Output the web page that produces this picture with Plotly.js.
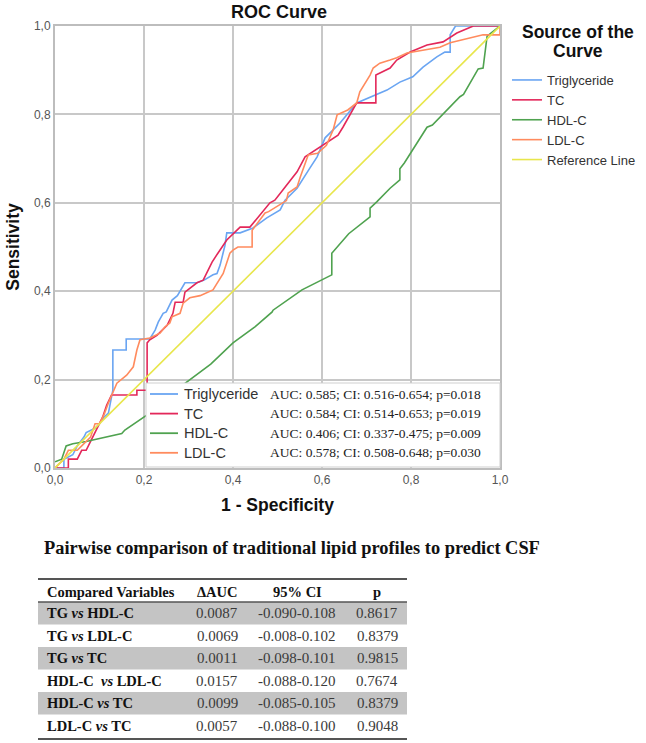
<!DOCTYPE html>
<html>
<head>
<meta charset="utf-8">
<script src="https://cdn.plot.ly/plotly-3.0.1.min.js"></script>
<style>html,body{margin:0;padding:0;background:#fff;}#chart{width:646px;height:743px;}</style>
</head>
<body>
<div id="chart"></div>
<script>
// ---- ROC curve data (1 - specificity, sensitivity) ----
const seriesNames = ['Triglyceride', 'TC', 'HDL-C', 'LDL-C'];

const tgX = [0, 0.02, 0.02, 0.04, 0.05, 0.065, 0.07, 0.09, 0.1, 0.11, 0.12, 0.125, 0.13, 0.13, 0.16, 0.16, 0.213, 0.225, 0.232, 0.243, 0.25, 0.263, 0.275, 0.292, 0.319, 0.335, 0.355, 0.364, 0.371, 0.382, 0.386, 0.416, 0.445, 0.476, 0.506, 0.517, 0.544, 0.573, 0.589, 0.607, 0.618, 0.64, 0.678, 0.723, 0.746, 0.775, 0.804, 0.827, 0.858, 0.876, 0.888, 0.888, 0.9, 1];
const tgY = [0, 0, 0.02, 0.03, 0.05, 0.07, 0.08, 0.09, 0.1, 0.115, 0.124, 0.15, 0.176, 0.267, 0.267, 0.292, 0.292, 0.312, 0.33, 0.35, 0.353, 0.38, 0.39, 0.419, 0.419, 0.425, 0.437, 0.44, 0.459, 0.504, 0.532, 0.532, 0.543, 0.566, 0.584, 0.606, 0.633, 0.679, 0.704, 0.747, 0.758, 0.78, 0.826, 0.844, 0.855, 0.873, 0.885, 0.907, 0.93, 0.941, 0.941, 0.98, 1, 1];

const tcX = [0, 0.03, 0.03, 0.05, 0.06, 0.07, 0.08, 0.09, 0.1, 0.107, 0.116, 0.124, 0.127, 0.184, 0.184, 0.207, 0.207, 0.213, 0.229, 0.252, 0.265, 0.27, 0.288, 0.292, 0.319, 0.333, 0.353, 0.366, 0.386, 0.416, 0.438, 0.483, 0.494, 0.512, 0.544, 0.562, 0.602, 0.636, 0.647, 0.678, 0.721, 0.721, 0.753, 0.768, 0.798, 0.836, 0.872, 0.903, 0.94, 1];
const tcY = [0, 0, 0.02, 0.02, 0.04, 0.04, 0.06, 0.08, 0.1, 0.115, 0.142, 0.161, 0.165, 0.165, 0.176, 0.176, 0.283, 0.29, 0.3, 0.323, 0.35, 0.375, 0.375, 0.398, 0.419, 0.425, 0.466, 0.486, 0.516, 0.545, 0.545, 0.6, 0.606, 0.629, 0.67, 0.704, 0.731, 0.753, 0.771, 0.826, 0.826, 0.889, 0.905, 0.923, 0.941, 0.957, 0.964, 0.984, 1, 1];

const hdlX = [0, 0.015, 0.025, 0.04, 0.07, 0.15, 0.157, 0.207, 0.25, 0.303, 0.326, 0.35, 0.4, 0.45, 0.488, 0.49, 0.555, 0.622, 0.622, 0.66, 0.708, 0.708, 0.723, 0.753, 0.775, 0.775, 0.785, 0.836, 0.848, 0.91, 0.918, 0.951, 0.962, 0.971, 1];
const hdlY = [0.014, 0.02, 0.05, 0.055, 0.06, 0.078, 0.086, 0.12, 0.16, 0.2, 0.217, 0.235, 0.283, 0.32, 0.353, 0.357, 0.403, 0.437, 0.486, 0.53, 0.568, 0.588, 0.602, 0.633, 0.652, 0.677, 0.69, 0.771, 0.776, 0.84, 0.845, 0.903, 0.905, 0.977, 1];

const ldlX = [0, 0.01, 0.02, 0.03, 0.05, 0.06, 0.07, 0.08, 0.09, 0.1, 0.11, 0.12, 0.139, 0.15, 0.161, 0.176, 0.184, 0.191, 0.213, 0.236, 0.247, 0.258, 0.263, 0.281, 0.288, 0.303, 0.326, 0.355, 0.378, 0.393, 0.4, 0.411, 0.443, 0.443, 0.472, 0.48, 0.51, 0.52, 0.524, 0.544, 0.551, 0.562, 0.569, 0.59, 0.61, 0.625, 0.634, 0.658, 0.678, 0.685, 0.708, 0.715, 0.73, 0.753, 0.768, 0.791, 0.827, 0.865, 0.888, 0.933, 0.962, 1, 1];
const ldlY = [0, 0.01, 0.02, 0.04, 0.04, 0.05, 0.06, 0.07, 0.1, 0.1, 0.12, 0.147, 0.192, 0.2, 0.21, 0.229, 0.267, 0.29, 0.294, 0.305, 0.319, 0.328, 0.342, 0.35, 0.373, 0.385, 0.39, 0.403, 0.44, 0.486, 0.493, 0.5, 0.5, 0.538, 0.577, 0.58, 0.6, 0.605, 0.622, 0.636, 0.658, 0.69, 0.708, 0.712, 0.73, 0.765, 0.799, 0.81, 0.826, 0.851, 0.889, 0.905, 0.916, 0.923, 0.928, 0.939, 0.946, 0.952, 0.962, 0.973, 0.98, 0.98, 1];

const refX = [0, 1];
const refY = [0, 1];

const aucLabels = [
  'AUC: 0.585; CI: 0.516-0.654; p=0.018',
  'AUC: 0.584; CI: 0.514-0.653; p=0.019',
  'AUC: 0.406; CI: 0.337-0.475; p=0.009',
  'AUC: 0.578; CI: 0.508-0.648; p=0.030'
];

// ---- pairwise comparison table ----
const tableTitle = 'Pairwise comparison of traditional lipid profiles to predict CSF';
const tableHeaders = ['Compared Variables', 'ΔAUC', '95% CI', 'p'];
const comparedVars = ['TG <i>vs</i> HDL-C', 'TG <i>vs</i> LDL-C', 'TG <i>vs</i> TC', 'HDL-C  <i>vs</i> LDL-C', 'HDL-C <i>vs</i> TC', 'LDL-C <i>vs</i> TC'];
const deltaAUC = ['0.0087', '0.0069', '0.0011', '0.0157', '0.0099', '0.0057'];
const ci95 = ['-0.090-0.108', '-0.008-0.102', '-0.098-0.101', '-0.088-0.120', '-0.085-0.105', '-0.088-0.100'];
const pVals = ['0.8617', '0.8379', '0.9815', '0.7674', '0.8379', '0.9048'];

// ---- styling ----
const colors = ['#6aa5f2', '#e3285a', '#4fa24f', '#ff8b5e'];
const refColor = '#e8e64c';
const W = 646, H = 743;
const px = v => v / W;
const py = v => (H - v) / H;
const SANS = 'Liberation Sans, Arial, sans-serif';
const SERIF = 'Liberation Serif, Times New Roman, serif';

const xs = [tgX, tcX, hdlX, ldlX];
const ys = [tgY, tcY, hdlY, ldlY];

const traces = [];
seriesNames.forEach((n, i) => {
  traces.push({
    type: 'scatter', mode: 'lines', x: xs[i], y: ys[i], name: n,
    line: {color: colors[i], width: 1.6}
  });
});
traces.push({
  type: 'scatter', mode: 'lines', x: refX, y: refY, name: 'Reference Line',
  line: {color: refColor, width: 1.6}
});

const annotations = [];
const shapes = [];

// in-plot AUC legend box
shapes.push({type: 'rect', xref: 'paper', yref: 'paper', x0: px(146), x1: px(500), y0: py(467), y1: py(383),
  fillcolor: '#ffffff', line: {color: '#cfcfcf', width: 1}, layer: 'above'});
seriesNames.forEach((n, i) => {
  const yc = 394 + i * 19.6;
  shapes.push({type: 'line', xref: 'paper', yref: 'paper', x0: px(150), x1: px(178), y0: py(yc), y1: py(yc),
    line: {color: colors[i], width: 1.8}, layer: 'above'});
  annotations.push({text: n, xref: 'paper', yref: 'paper', x: px(182), y: py(yc),
    xanchor: 'left', yanchor: 'middle', showarrow: false,
    font: {family: SANS, size: 14.5, color: '#333'}});
  annotations.push({text: aucLabels[i], xref: 'paper', yref: 'paper', x: px(268), y: py(yc),
    xanchor: 'left', yanchor: 'middle', showarrow: false,
    font: {family: SERIF, size: 13.5, color: '#222'}});
});

// right legend title
annotations.push({text: '<b>Source of the</b>', xref: 'paper', yref: 'paper', x: px(578), y: py(32),
  xanchor: 'center', yanchor: 'middle', showarrow: false, font: {family: SANS, size: 17.5, color: '#111'}});
annotations.push({text: '<b>Curve</b>', xref: 'paper', yref: 'paper', x: px(578), y: py(51),
  xanchor: 'center', yanchor: 'middle', showarrow: false, font: {family: SANS, size: 17.5, color: '#111'}});

// table title
annotations.push({text: '<b>' + tableTitle + '</b>', xref: 'paper', yref: 'paper',
  x: px(292), y: py(548), xanchor: 'center', yanchor: 'middle', showarrow: false,
  font: {family: SERIF, size: 18.4, color: '#111'}});

// table
const colX = [45, 217, 297, 377];
const colAnchor = ['left', 'center', 'center', 'center'];
const headerY = 591.5, rowTop = 602, rowH = 22.5;
tableHeaders.forEach((h, c) => {
  annotations.push({text: '<b>' + h + '</b>', xref: 'paper', yref: 'paper', x: px(colX[c]), y: py(headerY),
    xanchor: colAnchor[c], yanchor: 'middle', showarrow: false,
    font: {family: SERIF, size: 14.5, color: '#111'}});
});
const columns = [comparedVars, deltaAUC, ci95, pVals];
comparedVars.forEach((_, r) => {
  const top = rowTop + r * rowH;
  if (r % 2 === 0) {
    shapes.push({type: 'rect', xref: 'paper', yref: 'paper', x0: px(38), x1: px(407), y0: py(top + rowH), y1: py(top),
      fillcolor: '#c4c4c4', line: {width: 0}, layer: 'below'});
  }
  columns.forEach((col, c) => {
    annotations.push({text: c === 0 ? '<b>' + col[r] + '</b>' : col[r], xref: 'paper', yref: 'paper',
      x: px(colX[c]), y: py(top + rowH / 2), xanchor: colAnchor[c], yanchor: 'middle', showarrow: false,
      font: {family: SERIF, size: c === 0 ? 14.5 : 15, color: c === 0 ? '#111' : '#3a3a3a'}});
  });
});
[[579, 2], [602, 1.5], [739, 2]].forEach(([yy, w]) => {
  shapes.push({type: 'line', xref: 'paper', yref: 'paper', x0: px(38), x1: px(407), y0: py(yy), y1: py(yy),
    line: {color: '#555', width: w}});
});

const axisCommon = {
  range: [0, 1], tickvals: [0, 0.2, 0.4, 0.6, 0.8, 1], tickformat: '.1f',
  showgrid: true, gridcolor: '#c8c8c8', gridwidth: 2, zeroline: false,
  showline: true, linecolor: '#bdbdbd', linewidth: 2, mirror: true,
  ticks: '', fixedrange: true,
  tickfont: {family: SANS, size: 12, color: '#555'}
};

const layout = {
  width: W, height: H,
  margin: {l: 0, r: 0, t: 0, b: 0},
  paper_bgcolor: '#fff', plot_bgcolor: '#fff',
  separators: ', ',
  title: {text: '<b>ROC Curve</b>', x: px(279), xanchor: 'center', xref: 'paper',
          y: 1 - 12 / H, yref: 'container', yanchor: 'middle',
          font: {family: SANS, size: 18, color: '#111'}},
  xaxis: Object.assign({}, axisCommon, {
    domain: [px(55), px(500)], anchor: 'y',
    title: {text: '<b>1 - Specificity</b>', font: {family: SANS, size: 17.5, color: '#111'}, standoff: 12}
  }),
  yaxis: Object.assign({}, axisCommon, {
    domain: [py(468), py(26)], anchor: 'x',
    title: {text: '<b>Sensitivity</b>', font: {family: SANS, size: 17.5, color: '#111'}, standoff: 10}
  }),
  showlegend: true,
  legend: {
    x: px(507), y: py(65), xanchor: 'left', yanchor: 'top',
    font: {family: SANS, size: 13, color: '#333'}, bgcolor: 'rgba(0,0,0,0)', borderwidth: 0,
    itemwidth: 30
  },
  shapes: shapes,
  annotations: annotations
};

Plotly.newPlot('chart', traces, layout, {staticPlot: true, displayModeBar: false});
</script>
</body>
</html>
